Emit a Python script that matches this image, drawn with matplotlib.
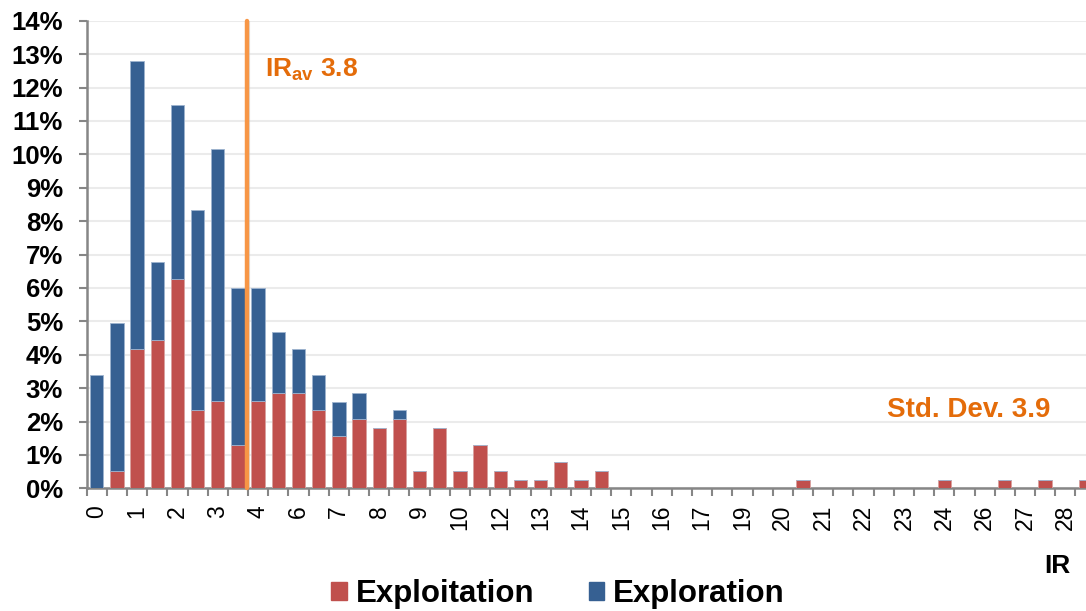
import matplotlib
matplotlib.use("Agg")
import matplotlib.pyplot as plt
import numpy as np
from matplotlib.patches import Patch

plt.rcParams['font.family'] = ['Liberation Sans', 'DejaVu Sans']
plt.rcParams['mathtext.fontset'] = 'custom'
plt.rcParams['mathtext.rm'] = 'Liberation Sans'
plt.rcParams['mathtext.bf'] = 'Liberation Sans:bold'

# ---- data (percent) ----
exploitation = [0.0, 0.52, 4.18, 4.43, 6.27, 2.33, 2.60, 1.29, 2.60, 2.86,
                2.86, 2.34, 1.56, 2.08, 1.81, 2.08, 0.52, 1.81, 0.52, 1.29,
                0.52, 0.26, 0.26, 0.78, 0.26, 0.52, 0, 0, 0, 0,
                0, 0, 0, 0, 0, 0.26, 0, 0, 0, 0,
                0, 0, 0.26, 0, 0, 0.26, 0, 0.26, 0, 0.26]
exploration = [3.40, 4.43, 8.60, 2.35, 5.20, 6.00, 7.57, 4.71, 3.40, 1.83,
               1.31, 1.04, 1.03, 0.78, 0.0, 0.26, 0, 0, 0, 0,
               0, 0, 0, 0, 0, 0, 0, 0, 0, 0,
               0, 0, 0, 0, 0, 0, 0, 0, 0, 0,
               0, 0, 0, 0, 0, 0, 0, 0, 0, 0]
tick_labels = ["0", "1", "2", "3", "4", "6", "7", "8", "9", "10", "12", "13", "14",
               "15", "16", "17", "19", "20", "21", "22", "23", "24", "26", "27", "28"]
ir_avg_pos = 7.43     # position of average on category axis
ir_avg_label = "3.8"
std_dev_label = "Std. Dev. 3.9"

W, H = 1086, 611
fig = plt.figure(figsize=(W / 100, H / 100), dpi=100)
left_px, right_px = 86.6, 1095.6
top_px, bottom_px = 20.7, 488.3
ax = fig.add_axes([left_px / W, 1 - bottom_px / H,
                   (right_px - left_px) / W, (bottom_px - top_px) / H])

red = '#C0504D'
blue = '#366092'
x = np.arange(len(exploitation))
ax.bar(x, exploitation, width=0.66, color=red, edgecolor='#D9A09E', linewidth=0.6, zorder=3)
ax.bar(x, exploration, width=0.66, bottom=exploitation, color=blue,
       edgecolor='#9DB3CF', linewidth=0.6, zorder=3)

ax.set_xlim(-0.5, len(exploitation) - 0.5)
ax.set_ylim(0, 14)

# y axis
ax.set_yticks(np.arange(0, 15, 1))
ax.set_yticklabels([f"{v}%" for v in range(0, 15)], fontsize=18.5, fontweight='bold')
ax.tick_params(axis='y', direction='out', length=6, width=1.5, color='#868686', pad=11)
ax.yaxis.grid(True, color='#EBEBEB', linewidth=1.5, zorder=0)
ax.set_axisbelow(True)

# x axis
ax.set_xticks(np.arange(0, len(exploitation), 2))
ax.set_xticklabels(tick_labels, rotation=90, fontsize=16.5)
ax.set_xticks(np.arange(-0.5, len(exploitation), 1), minor=True)
ax.tick_params(axis='x', which='major', length=0, pad=12)
ax.tick_params(axis='x', which='minor', direction='out', length=5.5, width=1.5, color='#868686')

for s in ['top', 'right']:
    ax.spines[s].set_visible(False)
for s in ['left', 'bottom']:
    ax.spines[s].set_color('#868686')
    ax.spines[s].set_linewidth(1.8)

# average line
ax.plot([ir_avg_pos + 0.06, ir_avg_pos + 0.06], [0, 14], color='#D0D0D0', linewidth=3, alpha=0.6,
        zorder=4, solid_capstyle='round')
ax.plot([ir_avg_pos, ir_avg_pos], [0, 14], color='#F79646', linewidth=3.2, zorder=5,
        solid_capstyle='round', clip_on=False)

orange = '#E46C0A'
ax.text(8.34, 12.31, r"$\mathbf{IR_{av}}$ " + ir_avg_label, color=orange, fontsize=19,
        fontweight='bold', ha='left', va='baseline')
ax.text(39.16, 2.14, std_dev_label, color=orange, fontsize=20, fontweight='bold',
        ha='left', va='baseline')

fig.text(1070 / W, 1 - 573 / H, "IR", fontsize=19, fontweight='bold', ha='right', va='baseline')

handles = [Patch(facecolor=red, edgecolor=red), Patch(facecolor=blue, edgecolor=blue)]
fig.legend(handles, ["Exploitation", "Exploration"], loc='center', bbox_to_anchor=(558 / W, 1 - 594 / H),
           ncol=2, frameon=False, prop={'weight': 'bold', 'size': 22.5},
           handlelength=0.5, handleheight=0.5, handletextpad=0.28, columnspacing=1.75,
           borderpad=0, borderaxespad=0)

fig.savefig("out.png", dpi=100)
